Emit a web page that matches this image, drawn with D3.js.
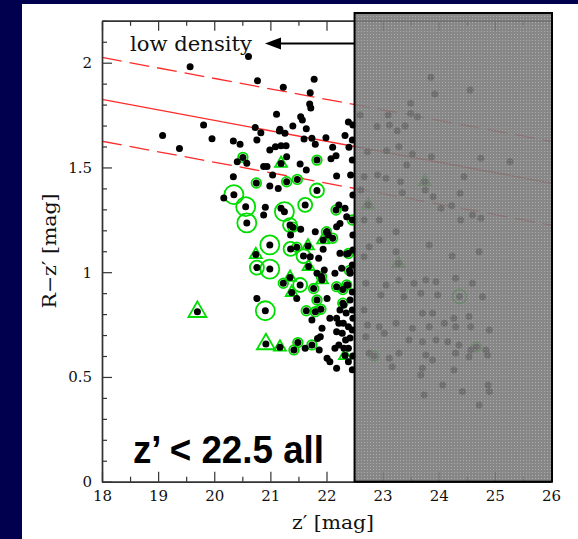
<!DOCTYPE html>
<html><head><meta charset="utf-8">
<script src="https://cdn.jsdelivr.net/npm/d3@7"></script>
<style>html,body{margin:0;padding:0;background:#00004f;} svg{display:block}</style>
</head><body>
<svg id="c" width="578" height="539"></svg>
<script>
// ---------- data ----------
const xTicks = [18, 19, 20, 21, 22, 23, 24, 25, 26];
const yTicks = [0, 0.5, 1, 1.5, 2];
const magLimit = 22.5;            // z' limit: fainter region is masked
const redSequence = [[18, 1.825], [26, 1.425]];
const redUpper    = [[18, 2.025], [26, 1.625]];
const redLower    = [[18, 1.625], [26, 1.225]];

// galaxies (z', R-z')
const galaxies = [
[19.57,1.981],[20.61,2.029],[20.77,1.914],[21.23,1.883],[19.81,1.703],[19.08,1.653],[19.38,1.590],[19.96,1.637],
[21.11,1.754],[20.73,1.691],[20.83,1.666],[20.34,1.626],[20.46,1.611],[20.76,1.631],[20.99,1.583],[21.09,1.599],
[21.19,1.604],[21.28,1.604],[21.16,1.674],[20.41,1.527],[20.58,1.520],[20.88,1.504],[20.94,1.504],[21.04,1.464],
[20.34,1.456],[20.99,1.411],[20.17,1.354],[20.91,1.310],[20.88,1.273],[21.78,1.921],[21.71,1.857],[21.70,1.803],
[21.72,1.784],[21.54,1.742],[21.57,1.727],[22.39,1.717],[21.17,1.682],[21.26,1.663],[21.40,1.698],[21.64,1.685],
[22.33,1.652],[21.99,1.642],[21.60,1.636],[21.74,1.639],[21.80,1.611],[22.11,1.596],[22.40,1.596],[21.29,1.551],
[22.17,1.556],[22.08,1.542],[21.53,1.516],[21.64,1.488],[22.18,1.459],[21.14,1.400],[21.19,1.305],[22.33,1.305],
[22.36,1.265],[22.24,1.233],[21.80,1.193],[22.01,1.193],[22.03,1.178],[22.24,1.090],[22.36,1.087],[21.71,1.074],
[21.96,1.010],[22.15,0.995],[22.27,1.019],[22.42,0.995],[20.76,0.875],[21.47,0.875],[22.01,0.875],[21.74,0.772],
[22.18,0.780],[22.30,0.756],[22.18,0.716],[21.92,0.732],[21.84,0.684],[21.62,0.637],[21.87,0.629],[22.01,0.589],
[22.18,0.541],[22.15,0.637],[22.06,0.780],[22.39,0.740],[21.89,0.692],[22.39,0.637],[22.34,0.676],[22.22,0.653],
[22.28,0.708],[22.38,0.939],[22.22,0.756],[22.43,1.464],[22.22,1.321],[21.54,1.205],[21.36,1.178],[21.86,1.066],
[22.46,0.905],[22.42,0.867],[22.31,0.843],[22.46,0.820],[22.35,0.805],[22.47,0.780],[22.24,0.820],[22.46,0.724],
[22.42,0.686],[22.31,0.637],[22.47,0.600],[22.39,0.572],[22.46,0.534],[22.06,0.572],[22.47,1.106],[22.46,1.034],
[22.47,1.178],[22.47,1.368],[22.46,1.536],[22.46,1.631],[22.47,1.703],[22.18,1.217],[21.94,1.109],[21.83,0.995],
// fainter than the limit (under the mask)
[23.86,1.930],[23.93,1.851],[24.56,1.870],[23.50,1.806],[23.10,1.750],[23.12,1.703],[23.50,1.758],[23.62,1.742],
[23.40,1.698],[23.26,1.675],[22.60,1.750],[22.90,1.695],[22.73,1.575],[23.07,1.580],[23.29,1.599],[23.53,1.564],
[23.87,1.551],[24.75,1.544],[25.27,1.527],[23.43,1.512],[22.91,1.464],[22.67,1.456],[23.06,1.448],[23.32,1.432],
[23.76,1.392],[22.61,1.392],[23.35,1.379],[23.90,1.360],[24.45,1.456],[24.38,1.377],[24.04,1.305],[24.23,1.317],
[24.60,1.273],[24.39,1.249],[24.75,1.257],[22.94,1.249],[22.67,1.249],[23.24,1.193],[22.94,1.154],[22.76,1.122],
[23.83,1.130],[24.24,1.077],[24.72,1.098],[23.24,1.098],[22.67,1.074],[22.70,0.947],[23.06,0.939],[23.29,0.963],
[23.56,0.947],[23.77,0.963],[23.95,0.955],[24.30,0.971],[24.60,0.947],[24.78,0.883],[22.97,0.891],[23.38,0.883],
[23.68,0.899],[23.98,0.891],[22.67,0.820],[23.71,0.804],[23.89,0.804],[24.54,0.788],[24.27,0.780],[22.73,0.748],
[22.94,0.740],[23.24,0.756],[23.53,0.732],[23.83,0.740],[24.10,0.756],[24.30,0.740],[24.57,0.740],[24.90,0.724],
[22.70,0.692],[23.03,0.708],[23.47,0.676],[23.71,0.668],[23.95,0.676],[24.16,0.668],[24.36,0.653],[24.57,0.629],
[24.84,0.629],[22.76,0.613],[23.12,0.589],[23.29,0.613],[23.77,0.605],[23.89,0.581],[24.30,0.613],[24.54,0.597],
[24.87,0.605],[23.17,0.549],[23.68,0.509],[23.71,0.541],[24.07,0.462],[24.42,0.430],[24.88,0.462],[24.90,0.430],
[23.74,0.414],[24.72,0.366],[24.27,0.533]
];

// green circled members (z', R-z', class 1..3)
const circled = [
[20.51,1.548,1],[20.75,1.426,1],[21.29,1.432,1],[21.48,1.443,1],[21.83,1.535,1],[21.83,1.390,2],[20.35,1.370,3],
[20.56,1.313,3],[20.58,1.235,3],[21.25,1.289,3],[21.62,1.321,2],[21.35,1.225,2],[21.40,1.215,1],[22.17,1.297,1],
[22.46,1.249,1],[22.00,1.193,1],[22.11,1.162,1],[20.76,1.022,2],[20.99,1.130,3],[20.99,1.015,3],[21.36,1.111,2],
[21.47,1.119,1],[21.59,1.077,2],[22.39,1.089,1],[21.91,0.979,1],[22.41,1.008,1],[20.91,0.816,3],[21.23,0.947,1],
[21.53,0.939,2],[21.77,0.922,1],[22.18,0.931,1],[22.36,0.939,1],[21.83,0.867,1],[22.29,0.852,1],[21.64,0.816,1],
[21.80,0.811,1],[21.90,0.823,1],[21.49,0.664,1],[21.42,0.629,1],[21.74,0.653,1],[22.29,0.917,1],
[24.37,0.884,2],[24.67,0.643,1],[22.85,0.600,1]
];
// green triangle members (z', R-z', class 2..3)
const triangles = [
[19.70,0.811,3],[20.92,0.657,3],[21.17,0.642,2],[20.74,1.084,2],[21.19,1.519,2],[21.67,1.125,2],[21.68,1.027,2],
[21.35,0.975,2],[21.38,0.903,2],[21.92,0.963,2],[21.94,1.154,2],[22.33,0.602,2],
[23.75,1.432,2],[22.74,1.321,2],[23.28,1.042,2]
];

// ---------- drawing ----------
const svg = d3.select("#c");
const W = 578, H = 539;
svg.append("rect").attr("x", 22).attr("y", 4).attr("width", W - 22).attr("height", H - 4).attr("fill", "#fff");

const x = d3.scaleLinear().domain([18, 26]).range([102, 551]);
const y = d3.scaleLinear().domain([0, 2.2]).range([481.7, 20.8]);
const circR = d3.scaleOrdinal().domain([1, 2, 3]).range([4.8, 7, 9.5]);
const triSize = d3.scaleOrdinal().domain([2, 3]).range([62, 140]);

const defs = svg.append("defs");
const pat = defs.append("pattern").attr("id", "stip").attr("width", 3).attr("height", 3).attr("patternUnits", "userSpaceOnUse");
pat.append("rect").attr("width", 3).attr("height", 3).attr("fill", "#7a7a7a");
pat.append("rect").attr("x", 1).attr("y", 1).attr("width", 1).attr("height", 1).attr("fill", "#a4a4a4");

// red sequence lines
const line = d3.line().x(d => x(d[0])).y(d => y(d[1]));
svg.append("path").attr("d", line(redSequence)).attr("fill", "none").attr("stroke", "#ff2a2a").attr("stroke-width", 1.3);
[redUpper, redLower].forEach(l => svg.append("path").attr("d", line(l)).attr("fill", "none")
  .attr("stroke", "#ff2a2a").attr("stroke-width", 1.3).attr("stroke-dasharray", "20,8"));

// green symbols
const green = "#00dd00";
svg.append("g").selectAll("circle").data(circled).join("circle")
  .attr("cx", d => x(d[0])).attr("cy", d => y(d[1])).attr("r", d => circR(d[2]))
  .attr("fill", "none").attr("stroke", green).attr("stroke-width", 1.8);
svg.append("g").selectAll("path").data(triangles).join("path")
  .attr("transform", d => `translate(${x(d[0])},${y(d[1])})`)
  .attr("d", d => d3.symbol(d3.symbolTriangle, triSize(d[2]))())
  .attr("fill", "none").attr("stroke", green).attr("stroke-width", 1.8);

// black dots: every galaxy, and every marked member
const allDots = galaxies.concat(circled.map(d => [d[0], d[1]]), triangles.map(d => [d[0], d[1]]));
svg.append("g").selectAll("circle").data(allDots).join("circle")
  .attr("cx", d => x(d[0])).attr("cy", d => y(d[1])).attr("r", 3.5).attr("fill", "#000");

// axes
const axG = svg.append("g");
const styleAxis = g => {
  g.select(".domain").attr("stroke", "#333").attr("stroke-width", 1.4);
  g.selectAll(".tick line").attr("stroke", "#333").attr("stroke-width", 1.2);
  g.selectAll("text").attr("font-size", 15).attr("fill", "#111").attr("font-family", "DejaVu Serif");
};
const minorX = d3.range(18.5, 26, 1);
const minorY = d3.range(0, 2.21, 0.1).filter(v => Math.abs(v * 2 - Math.round(v * 2)) > 1e-6);

axG.append("g").attr("transform", `translate(0,${y(0)})`)
  .call(d3.axisBottom(x).tickValues(xTicks).tickSizeInner(-10).tickSizeOuter(0).tickPadding(9).tickFormat(d3.format("d"))).call(styleAxis);
axG.append("g").attr("transform", `translate(0,${y(0)})`)
  .call(d3.axisBottom(x).tickValues(minorX).tickSizeInner(-5).tickSizeOuter(0).tickFormat("")).call(styleAxis);
axG.append("g").attr("transform", `translate(0,${y(2.2)})`)
  .call(d3.axisTop(x).tickValues(xTicks).tickSizeInner(-10).tickSizeOuter(0).tickFormat("")).call(styleAxis);
axG.append("g").attr("transform", `translate(0,${y(2.2)})`)
  .call(d3.axisTop(x).tickValues(minorX).tickSizeInner(-5).tickSizeOuter(0).tickFormat("")).call(styleAxis);
axG.append("g").attr("transform", `translate(${x(18)},0)`)
  .call(d3.axisLeft(y).tickValues(yTicks).tickSizeInner(-10).tickSizeOuter(0).tickPadding(10).tickFormat(d => String(d))).call(styleAxis);
axG.append("g").attr("transform", `translate(${x(18)},0)`)
  .call(d3.axisLeft(y).tickValues(minorY).tickSizeInner(-5).tickSizeOuter(0).tickFormat("")).call(styleAxis);

// mask of the faint region
svg.append("rect")
  .attr("x", x(magLimit)).attr("y", 13)
  .attr("width", x(26) - x(magLimit) + 1).attr("height", y(0) - 13)
  .attr("fill", "url(#stip)").attr("fill-opacity", 0.9)
  .attr("stroke", "#000").attr("stroke-width", 2);

// axis titles
svg.append("text").attr("x", 333).attr("y", 529).attr("text-anchor", "middle")
  .attr("font-family", "DejaVu Serif").attr("font-size", 19).attr("fill", "#111")
  .attr("textLength", 82).attr("lengthAdjust", "spacingAndGlyphs").text("z\u2032 [mag]");
svg.append("text").attr("transform", "translate(56,251) rotate(-90)").attr("text-anchor", "middle")
  .attr("font-family", "DejaVu Serif").attr("font-size", 19).attr("fill", "#111")
  .attr("textLength", 115).attr("lengthAdjust", "spacingAndGlyphs").text("R\u2212z\u2032 [mag]");

// annotations
svg.append("text").attr("x", 130).attr("y", 51)
  .attr("font-family", "DejaVu Serif").attr("font-size", 20).attr("fill", "#111")
  .attr("textLength", 122).attr("lengthAdjust", "spacingAndGlyphs").text("low density");
svg.append("line").attr("x1", 278).attr("x2", x(magLimit)).attr("y1", 43.5).attr("y2", 43.5)
  .attr("stroke", "#000").attr("stroke-width", 1.8);
svg.append("path").attr("d", "M265,43.5 L281,37.5 L281,49.5 Z").attr("fill", "#000");

svg.append("text").attr("x", 133).attr("y", 463)
  .attr("font-family", "Liberation Sans, Arial, sans-serif").attr("font-weight", "bold").attr("font-size", 39).attr("fill", "#000")
  .attr("textLength", 191).attr("lengthAdjust", "spacingAndGlyphs").text("z\u2019 < 22.5 all");
</script>
</body></html>
